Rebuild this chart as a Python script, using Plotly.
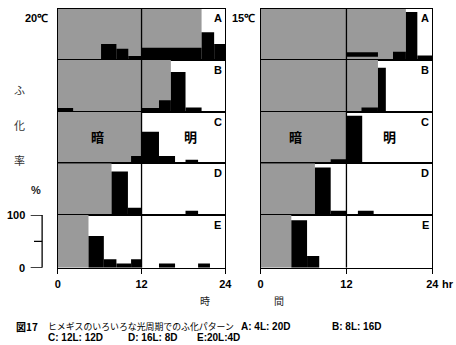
import plotly.graph_objects as go

W, H = 456, 345
ROWS = ["A", "B", "C", "D", "E"]
TEMPS = ["20℃", "15℃"]
X_TICKS = [0, 12, 24]
X_TICKTEXT = ["0", "12", "24"]
Y_TICKS = [0, 50, 100]
Y_TICKTEXT = ["0", "", "100"]

# end of the dark period (hour) for each row
dark_20 = [20.6, 16.2, 12.0, 7.7, 4.4]
dark_15 = [20.3, 16.4, 12.0, 7.6, 4.3]

# hatching bars: (start hour, end hour, top %, base %)
bars_20_A = [(6.2, 8.4, 31, 0), (8.4, 10.1, 22, 0), (10.1, 12.0, 8, 0),
             (12.0, 20.6, 24, 0), (20.6, 22.4, 54, 0), (22.4, 24.0, 31, 0)]
bars_20_B = [(0.0, 2.2, 7, 0), (12.0, 14.5, 7, 0), (14.5, 16.2, 22, 0),
             (16.2, 18.3, 77, 0), (18.3, 20.6, 8, 0)]
bars_20_C = [(10.5, 12.0, 14, 0), (12.0, 14.5, 61, 0), (14.5, 16.8, 14, 0),
             (18.3, 20.1, 7, 0)]
bars_20_D = [(7.7, 10.05, 84, 0), (10.05, 12.0, 14, 0), (18.3, 20.1, 8, 0)]
bars_20_E = [(4.4, 6.6, 60, 0), (6.6, 8.4, 16, 0), (8.4, 10.5, 8, 0),
             (10.5, 12.0, 16, 0), (14.5, 16.8, 8, 0), (20.1, 21.8, 8, 0)]
bars_15_A = [(12.0, 16.4, 15, 6.5), (18.5, 20.3, 16, 0), (20.3, 21.9, 93, 0),
             (21.9, 24.0, 8.5, 0)]
bars_15_B = [(14.1, 16.4, 8, 0), (16.4, 17.5, 85, 0)]
bars_15_C = [(9.8, 12.0, 8, 0), (12.0, 14.2, 92, 0)]
bars_15_D = [(7.6, 9.8, 92, 0), (9.8, 12.0, 8, 0), (13.6, 15.8, 8, 0)]
bars_15_E = [(4.3, 6.5, 90, 0), (6.5, 8.2, 22, 0)]

DARK = [dark_20, dark_15]
BARS = [[bars_20_A, bars_20_B, bars_20_C, bars_20_D, bars_20_E],
        [bars_15_A, bars_15_B, bars_15_C, bars_15_D, bars_15_E]]

# ---- layout geometry (pixels) ----
PANEL_X = [(56, 227.3), (263.3, 439.0)]
ROW_Y = [8.5, 60, 111.7, 163.3, 215, 267.7]
GRAY = "#9a9a9a"
LAT = "Liberation Sans"
JP = "Noto Sans CJK JP"
LW = 1.3


def px(x):
    return x / W


def py(y):
    return 1 - y / H


fig = go.Figure()
layout = dict(width=W, height=H, margin=dict(l=0, r=0, t=0, b=0),
              paper_bgcolor="white", plot_bgcolor="white",
              showlegend=False, barmode="overlay")
shapes = []
annotations = []

for p in range(2):
    for r in range(5):
        i = p * 5 + r + 1
        xa = "x" if i == 1 else f"x{i}"
        ya = "y" if i == 1 else f"y{i}"
        xkey = "xaxis" if i == 1 else f"xaxis{i}"
        ykey = "yaxis" if i == 1 else f"yaxis{i}"
        bottom = (r == 4)
        layout[xkey] = dict(
            domain=[px(PANEL_X[p][0]), px(PANEL_X[p][1])], anchor=ya,
            range=[0, 24], showline=True, mirror=True, linecolor="black",
            linewidth=LW, showgrid=False, zeroline=False, fixedrange=True,
            ticks="outside" if bottom else "", tickvals=X_TICKS,
            ticktext=X_TICKTEXT, showticklabels=bottom, ticklen=5.5,
            tickwidth=LW, tickcolor="black", ticklabelstandoff=0,
            tickfont=dict(family=LAT, size=11, color="black", weight="bold"))
        layout[ykey] = dict(
            domain=[py(ROW_Y[r + 1]), py(ROW_Y[r])], anchor=xa,
            range=[0, 100], showline=True, mirror=True, linecolor="black",
            linewidth=LW, showgrid=False, zeroline=False, fixedrange=True,
            ticks="", showticklabels=False)
        d = DARK[p][r]
        fig.add_trace(go.Bar(x=[d / 2], width=[d], y=[100], base=[0],
                             marker=dict(color=GRAY, line=dict(width=0)),
                             xaxis=xa, yaxis=ya, hoverinfo="skip"))
        b = BARS[p][r]
        fig.add_trace(go.Bar(
            x=[(s + e) / 2 for s, e, t, bs in b],
            width=[e - s for s, e, t, bs in b],
            y=[t - bs for s, e, t, bs in b],
            base=[bs for s, e, t, bs in b],
            marker=dict(color="black", line=dict(width=0)),
            xaxis=xa, yaxis=ya, hoverinfo="skip"))
        shapes.append(dict(type="line", xref=xa, yref=ya, x0=12, x1=12,
                           y0=0, y1=100, line=dict(color="black", width=LW)))
        # row letter
        annotations.append(dict(
            x=px(PANEL_X[p][1] - 7.5), y=py(ROW_Y[r] + 10), xref="paper",
            yref="paper", text=ROWS[r], showarrow=False,
            font=dict(family=LAT, size=11, color="black", weight="bold"),
            xanchor="center", yanchor="middle"))
        if r == 2:
            cx = ["x3", "x8"][p]
            cy = ["y3", "y8"][p]
            for txt, hx in zip(["暗", "明"], [[5.7, 19.0], [4.9, 18.0]][p]):
                annotations.append(dict(
                    x=hx, y=52, xref=cx, yref=cy, text=txt, showarrow=False,
                    font=dict(family=JP, size=13, color="black", weight="bold"),
                    xanchor="center", yanchor="middle"))

# temperature labels
annotations.append(dict(x=px(48.5), y=py(18.5), xref="paper", yref="paper",
                        text=TEMPS[0], showarrow=False, xanchor="right",
                        yanchor="middle",
                        font=dict(family=LAT, size=11, color="black",
                                  weight="bold")))
annotations.append(dict(x=px(260), y=py(18.5), xref="paper", yref="paper",
                        text=TEMPS[1], showarrow=False, xanchor="right",
                        yanchor="middle",
                        font=dict(family=LAT, size=11, color="black",
                                  weight="bold")))

# "hr" after the right-hand 24
annotations.append(dict(x=px(446.5), y=py(283.5), xref="paper", yref="paper",
                        text="hr", showarrow=False, xanchor="left",
                        yanchor="middle",
                        font=dict(family=LAT, size=11, color="black",
                                  weight="bold")))

# y label (vertical)
for ch, (x, y) in zip(["ふ", "化", "率"], [(17, 90), (17, 125), (17, 160)]):
    annotations.append(dict(x=px(x), y=py(y), xref="paper", yref="paper",
                            text=ch, showarrow=False, xanchor="center",
                            yanchor="middle",
                            font=dict(family=JP, size=11, color="#333")))
annotations.append(dict(x=px(33.5), y=py(190), xref="paper", yref="paper",
                        text="%", showarrow=False, xanchor="center",
                        yanchor="middle",
                        font=dict(family=LAT, size=11, color="#222",
                                  weight="bold")))

# scale bracket tied to the E row of the left panel (y5)
bx = px(40)
shapes.append(dict(type="line", xref="paper", yref="y5", x0=bx, x1=bx,
                   y0=0, y1=100, line=dict(color="black", width=LW)))
for v, t in zip(Y_TICKS, Y_TICKTEXT):
    x0 = px(28.3) if t else px(31.7)
    shapes.append(dict(type="line", xref="paper", yref="y5", x0=x0, x1=bx,
                       y0=v, y1=v, line=dict(color="black", width=LW)))
    if t:
        annotations.append(dict(x=px(24.5), y=v, xref="paper", yref="y5",
                                text=t, showarrow=False, xanchor="right",
                                yanchor="middle",
                                font=dict(family=LAT, size=11, color="black",
                                          weight="bold")))

# x title 時 間
for ch, x in zip(["時", "間"], [206.7, 281.7]):
    annotations.append(dict(x=px(x), y=py(300), xref="paper", yref="paper",
                            text=ch, showarrow=False, xanchor="center",
                            yanchor="middle",
                            font=dict(family=JP, size=10, color="#222")))

# caption
cap = [("図17", 12, 326, JP, "bold", 10),
       ("ヒメギスのいろいろな光周期でのふ化パターン", 45, 326, JP, "normal", 8.9),
       ("A: 4L: 20D", 242, 326, LAT, "bold", 10),
       ("B: 8L: 16D", 335, 326, LAT, "bold", 10),
       ("C: 12L: 12D", 44.5, 337.5, LAT, "bold", 10),
       ("D: 16L: 8D", 127, 337.5, LAT, "bold", 10),
       ("E:20L:4D", 197, 337.5, LAT, "bold", 10)]
for txt, x, y, fam, wt, sz in cap:
    annotations.append(dict(x=px(x), y=py(y), xref="paper", yref="paper",
                            text=txt, showarrow=False, xanchor="left",
                            yanchor="middle", borderpad=0,
                            font=dict(family=fam, size=sz, color="black",
                                      weight=wt)))

layout["shapes"] = shapes
layout["annotations"] = annotations
fig.update_layout(**layout)
fig.write_html("out.html")
